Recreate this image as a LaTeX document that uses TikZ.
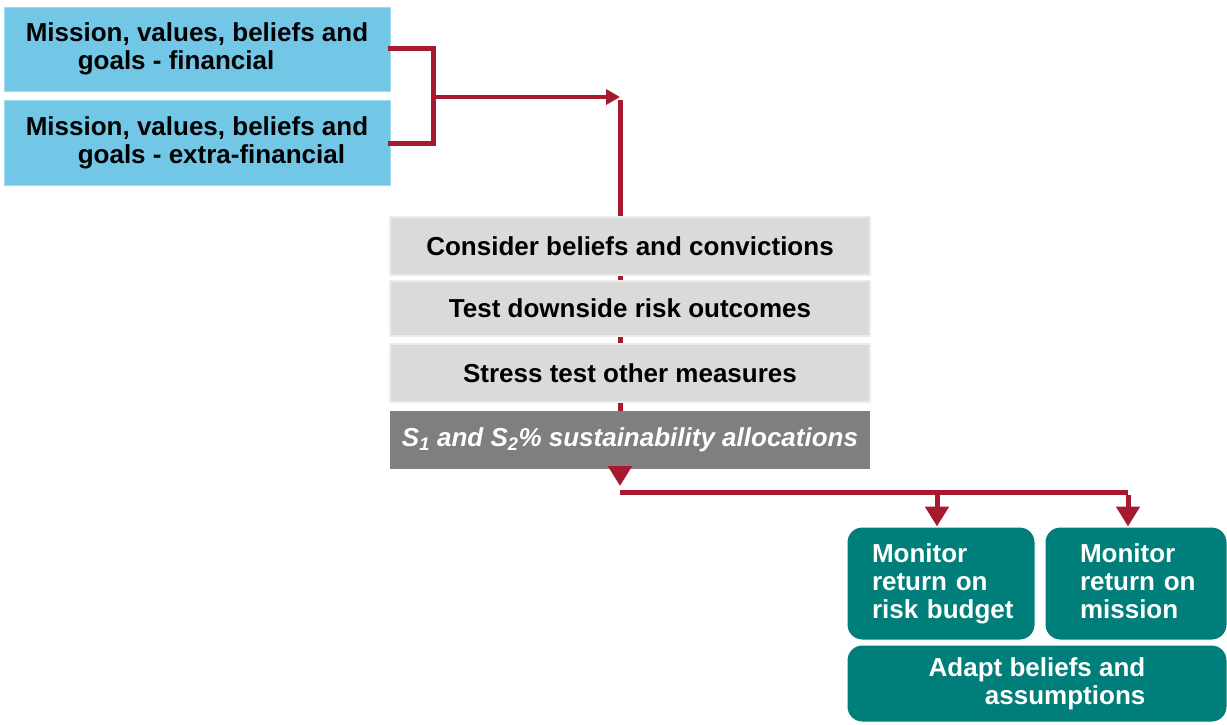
\documentclass[tikz,border=0pt]{standalone}
\usepackage{fontspec}
\setmainfont{Liberation Sans}
\usetikzlibrary{arrows.meta}
\definecolor{skyfill}{RGB}{114,199,231}
\definecolor{skyedge}{RGB}{160,218,240}
\definecolor{greyfill}{RGB}{218,218,218}
\definecolor{greyedge}{RGB}{236,236,236}
\definecolor{darkfill}{RGB}{127,127,127}
\definecolor{tealfill}{RGB}{0,126,122}
\definecolor{linered}{RGB}{166,25,46}
\tikzset{
  txt/.style={font=\fontsize{26}{28}\selectfont\bfseries},
  bluebox/.style={txt, fill=skyfill, draw=skyedge, line width=1pt, minimum width=386pt, align=left, inner sep=0pt},
  greybox/.style={txt, fill=greyfill, draw=greyedge, line width=1.5pt, minimum width=480pt, inner sep=0pt},
  darkbox/.style={txt, fill=darkfill, minimum width=480pt, inner sep=0pt, text=white},
  tealbox/.style={txt, fill=tealfill, draw=white, line width=1pt, rounded corners=15pt, text=white, inner ysep=0pt},
  redline/.style={draw=linered, line width=5pt},
  smallhead/.style={-{Triangle[length=14pt,width=15pt]}},
  bighead/.style={-{Triangle[length=20pt,width=23pt]}},
}
\begin{document}
\begin{tikzpicture}[x=1pt,y=-1pt]
\useasboundingbox (0,0) rectangle (1227,724);
% left blue boxes
\node[bluebox, minimum height=84pt] (m1) at (197,49) {Mission, values, beliefs and\\\hspace*{52pt}goals - financial};
\node[bluebox, minimum height=85pt] (m2) at (197,142.5) {Mission, values, beliefs and\\\hspace*{52pt}goals - extra-financial};
% centre grey boxes
\node[greybox, minimum height=58pt] (c1) at (630,246) {Consider beliefs and convictions};
\node[greybox, minimum height=55pt] (c2) at (630,308.5) {Test downside risk outcomes};
\node[greybox, minimum height=58pt] (c3) at (630,373) {Stress test other measures};
\node[darkbox, minimum height=58pt] (c4) at (630,440) {\itshape S\textsubscript{1} and S\textsubscript{2}\% sustainability allocations};
% teal boxes
\node[tealbox, minimum width=188pt, minimum height=113pt, text width=138pt, inner xsep=25pt, align=left] (ra) at (941,583.5) {Monitor\\\mbox{return on}\\\mbox{risk budget}};
\node[tealbox, minimum width=182pt, minimum height=113pt, text width=112pt, inner xsep=35pt, align=left] (rb) at (1136,583.5) {Monitor\\\mbox{return on}\\mission\vphantom{g}};
\node[tealbox, minimum width=380pt, minimum height=77pt, align=right, inner xsep=0pt] (ad) at (1037,683.5) {Adapt beliefs and\\assumptions};
% connector coordinates
\coordinate (jx) at (433,97);
\coordinate (top) at (620,97);
\coordinate (split) at (620,492);
\coordinate (xa) at (937,492);
\coordinate (xb) at (1128,492);
% bracket
\draw[redline, line cap=rect] (m1.east |- 0,48) -| (jx);
\draw[redline, line cap=rect] (m2.east |- 0,143) -| (jx);
\draw[draw=linered, line width=3.5pt, fill=linered, smallhead] (jx) -- (top);
% spine
\draw[redline] ([yshift=-3pt]top) -- (top |- c1.north);
\draw[redline] (top |- c1.south) -- (top |- c2.north);
\draw[redline] (top |- c2.south) -- (top |- c3.north);
\draw[redline] (top |- c3.south) -- (top |- c4.north);
\draw[redline, bighead] (top |- c4.south) -- ([yshift=6pt]split);
% fan-out
\draw[redline] (split) -- (xb);
\draw[redline, bighead] ([yshift=-2.5pt]xa) -- (xa |- ra.north);
\draw[redline, bighead] ([yshift=-2.5pt]xb) -- (xb |- rb.north);
\end{tikzpicture}
\end{document}
